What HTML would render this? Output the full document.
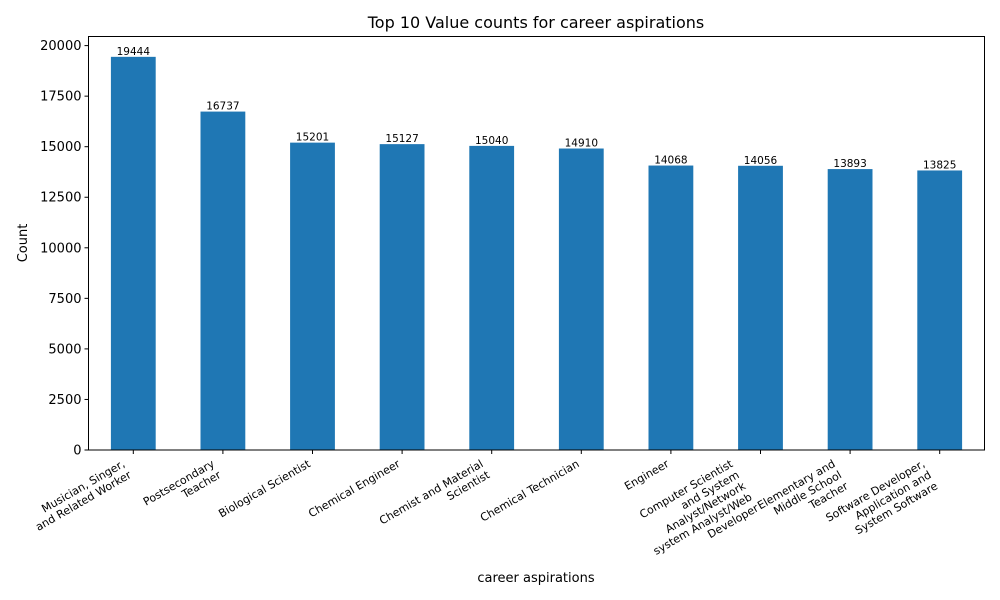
<!DOCTYPE html>
<html><head><meta charset="utf-8"><style>body{margin:0;background:#fff}svg{display:block;font-family:"DejaVu Sans","Liberation Sans",sans-serif}</style></head>
<body>
<svg id="chart" width="1000" height="600">
<rect x="0" y="0" width="1000" height="600" fill="#fff"/>
<text x="536" y="28" font-size="16" text-anchor="middle">Top 10 Value counts for career aspirations</text>
<text x="536" y="582" font-size="13" text-anchor="middle">career aspirations</text>
<text transform="translate(27,243) rotate(-90)" font-size="13" text-anchor="middle">Count</text>
<g id="bars"></g><g id="yaxis"></g><g id="xaxis"></g>
<rect x="88.5" y="36.5" width="896" height="413.5" fill="none" stroke="#000" stroke-width="1"/>
</svg>
<script>
const categories=[["Musician, Singer,","and Related Worker"],["Postsecondary","Teacher"],["Biological Scientist"],["Chemical Engineer"],["Chemist and Material","Scientist"],["Chemical Technician"],["Engineer"],["Computer Scientist","and System","Analyst/Network","system Analyst/Web","Developer"],["Elementary and","Middle School","Teacher"],["Software Developer,","Application and","System Software"]];
const counts=[19444,16737,15201,15127,15040,14910,14068,14056,13893,13825];
const yTicks=[0,2500,5000,7500,10000,12500,15000,17500,20000];
const NS="http://www.w3.org/2000/svg";
const L=88.5,R=984.5,T=36.5,B=450;
const yMax=20450;
const y=v=>B-(v/yMax)*(B-T);
const step=(R-L)/categories.length;
const xc=i=>L+step*(i+0.5);
const bars=document.getElementById('bars'),ya=document.getElementById('yaxis'),xa=document.getElementById('xaxis');
function mk(tag,attrs,parent){const e=document.createElementNS(NS,tag);for(const k in attrs)e.setAttribute(k,attrs[k]);parent.appendChild(e);return e;}
yTicks.forEach(t=>{
 const g=mk('g',{},ya);
 
 
 mk('line',{x1:L-4,x2:L,y1:y(t),y2:y(t),stroke:'#000'},g);
 const tx=mk('text',{x:L-7,y:y(t)+4.5,'font-size':13,'text-anchor':'end'},g);tx.textContent=t;
});
counts.forEach((v,i)=>{
 const w=step*0.5;
 const r=mk('rect',{x:xc(i)-w/2,y:y(v),width:w,height:B-y(v),fill:'#1f77b4'},bars);
 
 
 const lb=mk('text',{x:xc(i),y:y(v)-2,'font-size':10.5,'text-anchor':'middle'},bars);
 
 
 lb.textContent=v;
 mk('line',{x1:xc(i),x2:xc(i),y1:B,y2:B+4,stroke:'#000'},xa);
 const lines=categories[i];const lh=12.8;const h=lines.length*lh;
 const g=mk('g',{transform:`translate(${xc(i)-h/2},${B+7}) rotate(-30)`},xa);
 
 
 const t=mk('text',{'font-size':11,'text-anchor':'end'},g);
 lines.forEach((s,j)=>{const sp=mk('tspan',{x:0,y:(j+1)*lh-2.5},t);sp.textContent=s;});
});
</script>
</body></html>
